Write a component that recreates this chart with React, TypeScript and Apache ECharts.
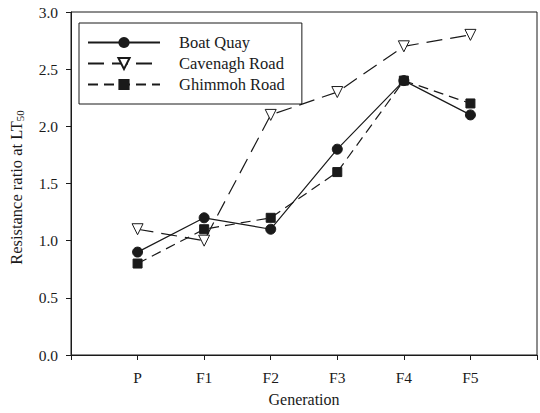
import React, { useEffect, useRef } from "react";
import * as echarts from "echarts";

const generations = ["P", "F1", "F2", "F3", "F4", "F5"];
const boatQuay = [0.9, 1.2, 1.1, 1.8, 2.4, 2.1];
const cavenaghRoad = [1.1, 1.0, 2.1, 2.3, 2.7, 2.8];
const ghimmohRoad = [0.8, 1.1, 1.2, 1.6, 2.4, 2.2];
const yTicks = [0, 0.5, 1.0, 1.5, 2.0, 2.5, 3.0];

const FONT = "Liberation Serif";
const INK = "#1a1a1a";

export default function App() {
  const ref = useRef<HTMLDivElement>(null);
  useEffect(() => {
    if (!ref.current) return;
    const chart = echarts.init(ref.current, undefined, { renderer: "svg" });
    const toPts = (arr: number[]) => arr.map((v, i) => [i + 1, v]);
    chart.setOption({
      animation: false,
      backgroundColor: "#fff",
      textStyle: { fontFamily: FONT, color: INK },
      grid: {
        left: 67,
        top: 12,
        width: 476,
        height: 343,
        show: true,
        borderColor: INK,
        borderWidth: 1,
        containLabel: false,
      },
      legend: {
        orient: "vertical",
        left: 79,
        top: 23,
        padding: [11, 17, 11, 8],
        itemWidth: 72,
        itemHeight: 14,
        itemGap: 4,
        borderColor: INK,
        borderWidth: 1,
        textStyle: { fontFamily: FONT, fontSize: 16.5, color: INK, padding: [0, 0, 0, 14] },
        data: ["Boat Quay", "Cavenagh Road", "Ghimmoh Road"],
      },
      xAxis: {
        type: "value",
        min: 0,
        max: 7,
        interval: 1,
        name: "Generation",
        nameLocation: "middle",
        nameGap: 36,
        nameTextStyle: { fontFamily: FONT, fontSize: 16, color: INK },
        axisLine: { lineStyle: { color: INK, width: 1 } },
        axisTick: { show: true, length: 5, inside: false, lineStyle: { color: INK } },
        splitLine: { show: false },
        axisLabel: {
          fontFamily: FONT,
          fontSize: 15.5,
          color: INK,
          margin: 14,
          formatter: (v: number) => (v >= 1 && v <= generations.length ? generations[v - 1] : ""),
        },
      },
      yAxis: {
        type: "value",
        min: 0,
        max: 3,
        interval: 0.5,
        name: "Resistance ratio at LT{sub|50}",
        nameLocation: "middle",
        nameGap: 46,
        nameRotate: 90,
        nameTextStyle: {
          fontFamily: FONT,
          fontSize: 16.5,
          color: INK,
          padding: [0, 0, 0, -8],
          rich: {
            sub: { fontFamily: FONT, fontSize: 11, color: INK, verticalAlign: "bottom", padding: [6, 0, 0, 0] },
          },
        },
        axisLine: { show: true, lineStyle: { color: INK, width: 1 } },
        axisTick: { show: true, length: 5, inside: false, lineStyle: { color: INK } },
        splitLine: { show: false },
        axisLabel: {
          fontFamily: FONT,
          fontSize: 15.5,
          color: INK,
          margin: 13,
          formatter: (v: number) => {
            const t = yTicks.find((y) => Math.abs(y - v) < 1e-9);
            return t !== undefined ? t.toFixed(1) : "";
          },
        },
      },
      series: [
        {
          name: "Boat Quay",
          type: "line",
          data: toPts(boatQuay),
          symbol: "circle",
          symbolSize: 10,
          itemStyle: { color: INK, borderColor: INK },
          lineStyle: { color: INK, width: 1.2, type: "solid" },
        },
        {
          name: "Cavenagh Road",
          type: "line",
          data: toPts(cavenaghRoad),
          symbol: "triangle",
          symbolRotate: 180,
          symbolSize: 11,
          itemStyle: { color: "#fff", borderColor: INK, borderWidth: 1 },
          lineStyle: { color: INK, width: 1.2, type: [16, 8] },
        },
        {
          name: "Ghimmoh Road",
          type: "line",
          data: toPts(ghimmohRoad),
          symbol: "rect",
          symbolSize: 9,
          itemStyle: { color: INK, borderColor: INK },
          lineStyle: { color: INK, width: 1.2, type: [10, 6] },
        },
      ],
    });
    return () => chart.dispose();
  }, []);
  return <div ref={ref} style={{ width: 540, height: 413, position: "absolute", left: 0, top: 0 }} />;
}
